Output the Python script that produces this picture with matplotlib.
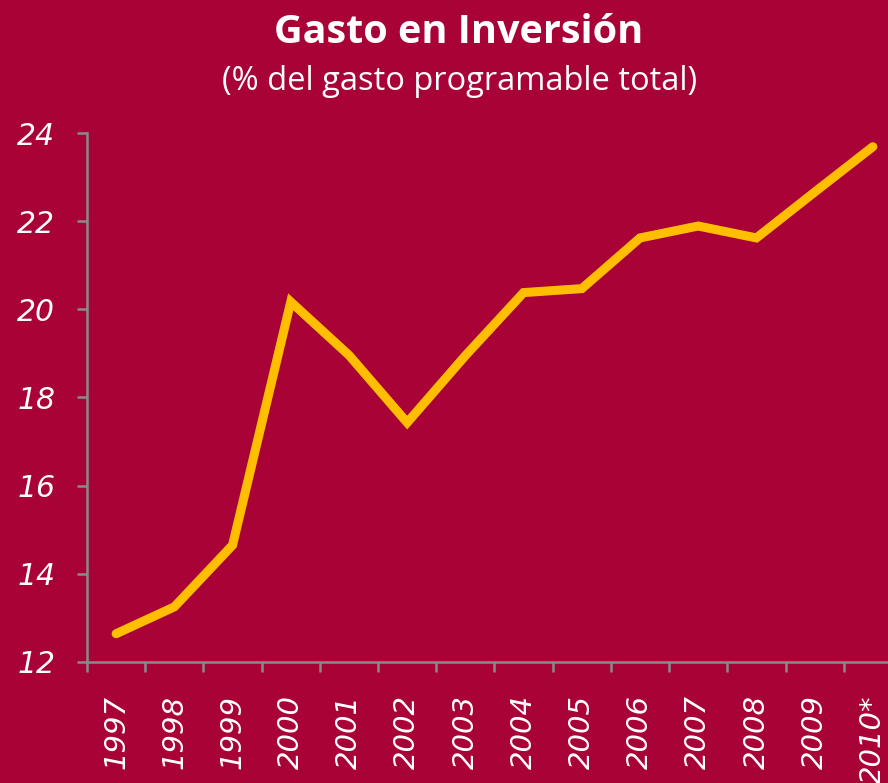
import matplotlib.pyplot as plt
import matplotlib.ticker as mticker

years = ["1997", "1998", "1999", "2000", "2001", "2002", "2003",
         "2004", "2005", "2006", "2007", "2008", "2009", "2010*"]
gasto = [12.64, 13.25, 14.65, 20.17, 18.96, 17.43, 18.95,
         20.38, 20.47, 21.62, 21.89, 21.62, 22.66, 23.69]

bg = "#a80236"
line_color = "#ffbe00"
axis_gray = "#8a8a8a"

fig = plt.figure(figsize=(8.88, 7.83), dpi=100)
fig.patch.set_facecolor(bg)

ax = fig.add_axes([0.098, 0.1546, 0.902, 0.6755])
ax.set_facecolor(bg)

x = list(range(len(years)))
ax.plot(x, gasto, color=line_color, linewidth=6.5,
        solid_capstyle="round", solid_joinstyle="miter")

ax.set_xlim(-0.5, 13.26)
ax.set_ylim(12, 24)

# spines
for side in ["top", "right"]:
    ax.spines[side].set_visible(False)
for side in ["left", "bottom"]:
    ax.spines[side].set_color(axis_gray)
    ax.spines[side].set_linewidth(1.8)

# y axis
ax.set_yticks([12, 14, 16, 18, 20, 22, 24])
ax.tick_params(axis="y", colors=axis_gray, length=7, width=1.8,
               pad=16, labelcolor="white", labelsize=21.5)
for lab in ax.get_yticklabels():
    lab.set_fontstyle("italic")

# x axis: ticks at category boundaries, labels at centres
ax.xaxis.set_major_locator(mticker.FixedLocator([i - 0.5 for i in range(len(years))]))
ax.xaxis.set_major_formatter(mticker.NullFormatter())
ax.xaxis.set_minor_locator(mticker.FixedLocator(x))
ax.xaxis.set_minor_formatter(mticker.FixedFormatter(years))
ax.tick_params(axis="x", which="major", colors=axis_gray, length=7, width=1.8)
ax.tick_params(axis="x", which="minor", length=0, pad=24,
               labelcolor="white", labelsize=21, labelrotation=90)
for lab in ax.get_xticklabels(minor=True):
    lab.set_fontstyle("italic")
    lab.set_verticalalignment("top")

fig.text(0.517, 0.959, "Gasto en Inversión", color="white",
         fontsize=28.5, fontweight="bold", family="Open Sans",
         ha="center", va="center")
fig.text(0.517, 0.896, "(% del gasto programable total)", color="white",
         fontsize=23.5, family="Open Sans", ha="center", va="center")

fig.savefig("out.png", dpi=100, facecolor=bg)
